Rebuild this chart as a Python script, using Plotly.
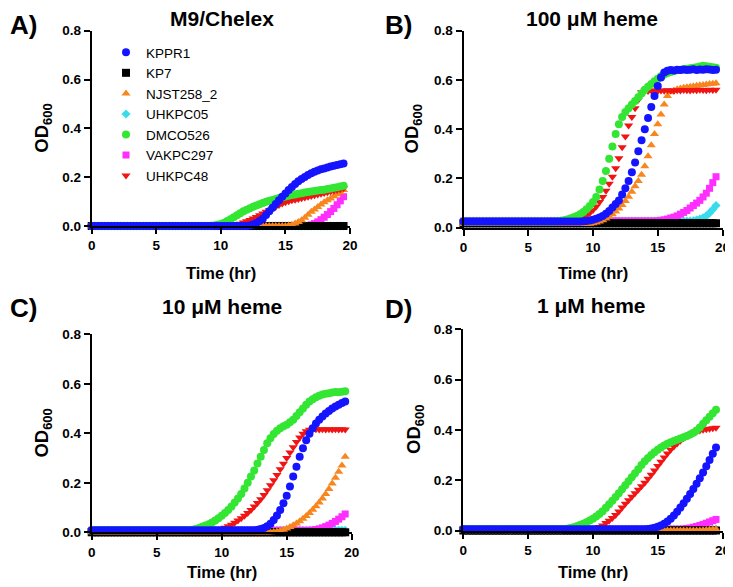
import plotly.graph_objects as go
from plotly.subplots import make_subplots

# sampling times (hr), one reading every 15 min
TIME_HR = [
    0.0, 0.25, 0.5, 0.75, 1.0, 1.25, 1.5, 1.75, 2.0, 2.25,
    2.5, 2.75, 3.0, 3.25, 3.5, 3.75, 4.0, 4.25, 4.5, 4.75,
    5.0, 5.25, 5.5, 5.75, 6.0, 6.25, 6.5, 6.75, 7.0, 7.25,
    7.5, 7.75, 8.0, 8.25, 8.5, 8.75, 9.0, 9.25, 9.5, 9.75,
    10.0, 10.25, 10.5, 10.75, 11.0, 11.25, 11.5, 11.75, 12.0, 12.25,
    12.5, 12.75, 13.0, 13.25, 13.5, 13.75, 14.0, 14.25, 14.5, 14.75,
    15.0, 15.25, 15.5, 15.75, 16.0, 16.25, 16.5, 16.75, 17.0, 17.25,
    17.5, 17.75, 18.0, 18.25, 18.5, 18.75, 19.0, 19.25, 19.5,
]

STRAINS = ["KPPR1", "KP7", "NJST258_2", "UHKPC05", "DMCO526", "VAKPC297", "UHKPC48"]

# ---------------- A) M9/Chelex ----------------
M9_KPPR1 = [
    0.0, 0.0, 0.0, 0.0, 0.0, 0.0, 0.0, 0.0, 0.0, 0.0,
    0.0, 0.0, 0.0, 0.0, 0.0, 0.0, 0.0, 0.0, 0.0, 0.0,
    0.0, 0.0, 0.0, 0.0, 0.0, 0.0, 0.0, 0.0, 0.0, 0.0,
    0.0, 0.0, 0.0, 0.0, 0.0, 0.0, 0.0, 0.0, 0.0, 0.0,
    0.0, 0.0, 0.0, 0.0, 0.0, 0.0, 0.0, 0.0, 0.0, 0.002,
    0.006, 0.012, 0.02, 0.03, 0.045, 0.06, 0.075, 0.09, 0.105, 0.12,
    0.133, 0.147, 0.16, 0.172, 0.183, 0.193, 0.201, 0.209, 0.216, 0.222,
    0.227, 0.232, 0.236, 0.24, 0.244, 0.247, 0.25, 0.253, 0.256,
]
M9_KP7 = [
    0.0, 0.0, 0.0, 0.0, 0.0, 0.0, 0.0, 0.0, 0.0, 0.0,
    0.0, 0.0, 0.0, 0.0, 0.0, 0.0, 0.0, 0.0, 0.0, 0.0,
    0.0, 0.0, 0.0, 0.0, 0.0, 0.0, 0.0, 0.0, 0.0, 0.0,
    0.0, 0.0, 0.0, 0.0, 0.0, 0.0, 0.0, 0.0, 0.0, 0.0,
    0.0, 0.0, 0.0, 0.0, 0.0, 0.0, 0.0, 0.0, 0.0, 0.0,
    0.0, 0.0, 0.0, 0.0, 0.0, 0.0, 0.0, 0.0, 0.0, 0.0,
    0.0, 0.0, 0.0, 0.0, 0.0, 0.0, 0.0, 0.0, 0.0, 0.0,
    0.0, 0.0, 0.0, 0.0, 0.0, 0.0, 0.0, 0.0, 0.0,
]
M9_NJST258_2 = [
    0.0, 0.0, 0.0, 0.0, 0.0, 0.0, 0.0, 0.0, 0.0, 0.0,
    0.0, 0.0, 0.0, 0.0, 0.0, 0.0, 0.0, 0.0, 0.0, 0.0,
    0.0, 0.0, 0.0, 0.0, 0.0, 0.0, 0.0, 0.0, 0.0, 0.0,
    0.0, 0.0, 0.0, 0.0, 0.0, 0.0, 0.0, 0.0, 0.0, 0.0,
    0.0, 0.0, 0.0, 0.0, 0.0, 0.0, 0.0, 0.0, 0.0, 0.0,
    0.0, 0.0, 0.0, 0.0, 0.0, 0.0, 0.0, 0.0, 0.0, 0.0,
    0.0, 0.002, 0.005, 0.01, 0.016, 0.024, 0.034, 0.046, 0.058, 0.068,
    0.078, 0.088, 0.097, 0.105, 0.113, 0.122, 0.13, 0.138, 0.147,
]
M9_UHKPC05 = [
    0.0, 0.0, 0.0, 0.0, 0.0, 0.0, 0.0, 0.0, 0.0, 0.0,
    0.0, 0.0, 0.0, 0.0, 0.0, 0.0, 0.0, 0.0, 0.0, 0.0,
    0.0, 0.0, 0.0, 0.0, 0.0, 0.0, 0.0, 0.0, 0.0, 0.0,
    0.0, 0.0, 0.0, 0.0, 0.0, 0.0, 0.0, 0.0, 0.0, 0.0,
    0.0, 0.0, 0.0, 0.0, 0.0, 0.0, 0.0, 0.0, 0.0, 0.0,
    0.0, 0.0, 0.0, 0.0, 0.0, 0.0, 0.0, 0.0, 0.0, 0.0,
    0.0, 0.0, 0.0, 0.0, 0.0, 0.0, 0.0, 0.0, 0.0, 0.0,
    0.0, 0.0, 0.0, 0.0, 0.0, 0.0, 0.0, 0.0, 0.0,
]
M9_DMCO526 = [
    0.0, 0.0, 0.0, 0.0, 0.0, 0.0, 0.0, 0.0, 0.0, 0.0,
    0.0, 0.0, 0.0, 0.0, 0.0, 0.0, 0.0, 0.0, 0.0, 0.0,
    0.0, 0.0, 0.0, 0.0, 0.0, 0.0, 0.0, 0.0, 0.0, 0.0,
    0.0, 0.0, 0.0, 0.0, 0.0, 0.0, 0.0, 0.001, 0.002, 0.005,
    0.008, 0.013, 0.02, 0.028, 0.036, 0.044, 0.052, 0.06, 0.067, 0.073,
    0.079, 0.084, 0.089, 0.094, 0.099, 0.103, 0.107, 0.111, 0.115, 0.118,
    0.121, 0.124, 0.127, 0.129, 0.132, 0.134, 0.137, 0.139, 0.141, 0.143,
    0.145, 0.147, 0.149, 0.152, 0.154, 0.157, 0.159, 0.162, 0.165,
]
M9_VAKPC297 = [
    0.0, 0.0, 0.0, 0.0, 0.0, 0.0, 0.0, 0.0, 0.0, 0.0,
    0.0, 0.0, 0.0, 0.0, 0.0, 0.0, 0.0, 0.0, 0.0, 0.0,
    0.0, 0.0, 0.0, 0.0, 0.0, 0.0, 0.0, 0.0, 0.0, 0.0,
    0.0, 0.0, 0.0, 0.0, 0.0, 0.0, 0.0, 0.0, 0.0, 0.0,
    0.0, 0.0, 0.0, 0.0, 0.0, 0.0, 0.0, 0.0, 0.0, 0.0,
    0.0, 0.0, 0.0, 0.0, 0.0, 0.0, 0.0, 0.0, 0.0, 0.0,
    0.0, 0.0, 0.0, 0.0, 0.0, 0.0, 0.0, 0.002, 0.005, 0.01,
    0.017, 0.026, 0.036, 0.047, 0.059, 0.072, 0.087, 0.103, 0.12,
]
M9_UHKPC48 = [
    0.0, 0.0, 0.0, 0.0, 0.0, 0.0, 0.0, 0.0, 0.0, 0.0,
    0.0, 0.0, 0.0, 0.0, 0.0, 0.0, 0.0, 0.0, 0.0, 0.0,
    0.0, 0.0, 0.0, 0.0, 0.0, 0.0, 0.0, 0.0, 0.0, 0.0,
    0.0, 0.0, 0.0, 0.0, 0.0, 0.0, 0.0, 0.0, 0.0, 0.0,
    0.0, 0.0, 0.0, 0.0, 0.002, 0.005, 0.009, 0.014, 0.019, 0.025,
    0.031, 0.037, 0.044, 0.051, 0.058, 0.065, 0.072, 0.079, 0.086, 0.092,
    0.097, 0.101, 0.105, 0.108, 0.111, 0.114, 0.117, 0.12, 0.123, 0.126,
    0.129, 0.132, 0.135, 0.138, 0.141, 0.144, 0.147, 0.151, 0.155,
]

# ---------------- B) 100 uM heme ----------------
H100_KPPR1 = [
    0.025, 0.025, 0.025, 0.025, 0.025, 0.025, 0.025, 0.025, 0.025, 0.025,
    0.025, 0.025, 0.025, 0.025, 0.025, 0.025, 0.025, 0.025, 0.025, 0.025,
    0.025, 0.025, 0.025, 0.025, 0.025, 0.025, 0.025, 0.025, 0.025, 0.025,
    0.025, 0.025, 0.025, 0.025, 0.025, 0.025, 0.025, 0.026, 0.027, 0.029,
    0.032, 0.036, 0.041, 0.048, 0.057, 0.068, 0.082, 0.096, 0.11, 0.135,
    0.16, 0.19, 0.225, 0.265, 0.31, 0.355, 0.4, 0.445, 0.49, 0.535,
    0.575, 0.61, 0.63, 0.637, 0.64, 0.638, 0.641, 0.64, 0.642, 0.64,
    0.641, 0.643, 0.64, 0.642, 0.641, 0.643, 0.642, 0.64, 0.641,
]
H100_KP7 = [
    0.018, 0.018, 0.018, 0.018, 0.018, 0.018, 0.018, 0.018, 0.018, 0.018,
    0.018, 0.018, 0.018, 0.018, 0.018, 0.018, 0.018, 0.018, 0.018, 0.018,
    0.018, 0.018, 0.018, 0.018, 0.018, 0.018, 0.018, 0.018, 0.018, 0.018,
    0.018, 0.018, 0.018, 0.018, 0.018, 0.018, 0.018, 0.018, 0.018, 0.018,
    0.018, 0.018, 0.018, 0.018, 0.018, 0.018, 0.018, 0.018, 0.018, 0.018,
    0.018, 0.018, 0.018, 0.018, 0.018, 0.018, 0.018, 0.018, 0.018, 0.018,
    0.018, 0.018, 0.018, 0.018, 0.018, 0.018, 0.018, 0.018, 0.018, 0.018,
    0.018, 0.018, 0.018, 0.018, 0.018, 0.018, 0.018, 0.018, 0.018,
]
H100_NJST258_2 = [
    0.015, 0.015, 0.015, 0.015, 0.015, 0.015, 0.015, 0.015, 0.015, 0.015,
    0.015, 0.015, 0.015, 0.015, 0.015, 0.015, 0.015, 0.015, 0.015, 0.015,
    0.015, 0.015, 0.015, 0.015, 0.015, 0.015, 0.015, 0.015, 0.015, 0.015,
    0.015, 0.015, 0.015, 0.015, 0.015, 0.015, 0.015, 0.015, 0.015, 0.016,
    0.018, 0.021, 0.025, 0.03, 0.037, 0.045, 0.055, 0.066, 0.078, 0.092,
    0.108, 0.126, 0.146, 0.168, 0.19, 0.215, 0.25, 0.29, 0.335, 0.38,
    0.42, 0.46, 0.5, 0.535, 0.55, 0.557, 0.562, 0.565, 0.568, 0.57,
    0.572, 0.574, 0.576, 0.578, 0.58, 0.582, 0.584, 0.585, 0.587,
]
H100_UHKPC05 = [
    0.027, 0.027, 0.027, 0.027, 0.027, 0.027, 0.027, 0.027, 0.027, 0.027,
    0.027, 0.027, 0.027, 0.027, 0.027, 0.027, 0.027, 0.027, 0.027, 0.027,
    0.027, 0.027, 0.027, 0.027, 0.027, 0.027, 0.027, 0.027, 0.027, 0.027,
    0.027, 0.027, 0.027, 0.027, 0.027, 0.027, 0.027, 0.027, 0.027, 0.027,
    0.027, 0.027, 0.027, 0.027, 0.027, 0.027, 0.027, 0.027, 0.027, 0.027,
    0.027, 0.027, 0.027, 0.027, 0.027, 0.027, 0.027, 0.027, 0.027, 0.027,
    0.027, 0.027, 0.027, 0.027, 0.027, 0.027, 0.027, 0.027, 0.027, 0.027,
    0.027, 0.028, 0.031, 0.035, 0.04, 0.048, 0.06, 0.074, 0.09,
]
H100_DMCO526 = [
    0.025, 0.025, 0.025, 0.025, 0.025, 0.025, 0.025, 0.025, 0.025, 0.025,
    0.025, 0.025, 0.025, 0.025, 0.025, 0.025, 0.025, 0.025, 0.025, 0.025,
    0.025, 0.025, 0.025, 0.025, 0.025, 0.025, 0.025, 0.025, 0.025, 0.026,
    0.028, 0.03, 0.033, 0.037, 0.042, 0.048, 0.055, 0.064, 0.075, 0.088,
    0.104, 0.125, 0.155, 0.19, 0.23, 0.28, 0.33, 0.38, 0.42, 0.45,
    0.47, 0.485, 0.5, 0.515, 0.53, 0.545, 0.56, 0.572, 0.584, 0.595,
    0.605, 0.615, 0.622, 0.628, 0.632, 0.636, 0.639, 0.641, 0.643, 0.645,
    0.648, 0.65, 0.652, 0.655, 0.658, 0.656, 0.654, 0.652, 0.65,
]
H100_VAKPC297 = [
    0.027, 0.027, 0.027, 0.027, 0.027, 0.027, 0.027, 0.027, 0.027, 0.027,
    0.027, 0.027, 0.027, 0.027, 0.027, 0.027, 0.027, 0.027, 0.027, 0.027,
    0.027, 0.027, 0.027, 0.027, 0.027, 0.027, 0.027, 0.027, 0.027, 0.027,
    0.027, 0.027, 0.027, 0.027, 0.027, 0.027, 0.027, 0.027, 0.027, 0.027,
    0.027, 0.027, 0.027, 0.027, 0.027, 0.027, 0.027, 0.027, 0.027, 0.027,
    0.027, 0.027, 0.027, 0.027, 0.027, 0.027, 0.027, 0.027, 0.027, 0.027,
    0.028, 0.03, 0.032, 0.035, 0.039, 0.043, 0.048, 0.055, 0.062, 0.07,
    0.08, 0.09, 0.1, 0.111, 0.125, 0.14, 0.16, 0.183, 0.207,
]
H100_UHKPC48 = [
    0.025, 0.025, 0.025, 0.025, 0.025, 0.025, 0.025, 0.025, 0.025, 0.025,
    0.025, 0.025, 0.025, 0.025, 0.025, 0.025, 0.025, 0.025, 0.025, 0.025,
    0.025, 0.025, 0.025, 0.025, 0.025, 0.025, 0.025, 0.025, 0.025, 0.025,
    0.025, 0.025, 0.025, 0.027, 0.029, 0.032, 0.036, 0.042, 0.05, 0.06,
    0.072, 0.086, 0.104, 0.125, 0.15, 0.178, 0.207, 0.241, 0.282, 0.327,
    0.37, 0.415, 0.45, 0.485, 0.52, 0.55, 0.556, 0.555, 0.557, 0.556,
    0.555, 0.557, 0.556, 0.558, 0.557, 0.556, 0.558, 0.557, 0.559, 0.558,
    0.557, 0.559, 0.558, 0.56, 0.559, 0.558, 0.56, 0.559, 0.56,
]

# ---------------- C) 10 uM heme ----------------
H10_KPPR1 = [
    0.008, 0.008, 0.008, 0.008, 0.008, 0.008, 0.008, 0.008, 0.008, 0.008,
    0.008, 0.008, 0.008, 0.008, 0.008, 0.008, 0.008, 0.008, 0.008, 0.008,
    0.008, 0.008, 0.008, 0.008, 0.008, 0.008, 0.008, 0.008, 0.008, 0.008,
    0.008, 0.008, 0.008, 0.008, 0.008, 0.008, 0.008, 0.008, 0.008, 0.008,
    0.008, 0.008, 0.008, 0.008, 0.008, 0.008, 0.008, 0.008, 0.008, 0.008,
    0.008, 0.01, 0.013, 0.017, 0.024, 0.035, 0.05, 0.068, 0.09, 0.117,
    0.148, 0.185, 0.225, 0.265, 0.305, 0.34, 0.372, 0.398, 0.42, 0.44,
    0.455, 0.468, 0.48, 0.49, 0.5, 0.508, 0.515, 0.522, 0.528,
]
H10_KP7 = [
    0.0, 0.0, 0.0, 0.0, 0.0, 0.0, 0.0, 0.0, 0.0, 0.0,
    0.0, 0.0, 0.0, 0.0, 0.0, 0.0, 0.0, 0.0, 0.0, 0.0,
    0.0, 0.0, 0.0, 0.0, 0.0, 0.0, 0.0, 0.0, 0.0, 0.0,
    0.0, 0.0, 0.0, 0.0, 0.0, 0.0, 0.0, 0.0, 0.0, 0.0,
    0.0, 0.0, 0.0, 0.0, 0.0, 0.0, 0.0, 0.0, 0.0, 0.0,
    0.0, 0.0, 0.0, 0.0, 0.0, 0.0, 0.0, 0.0, 0.0, 0.0,
    0.0, 0.0, 0.0, 0.0, 0.0, 0.0, 0.0, 0.0, 0.0, 0.0,
    0.0, 0.0, 0.0, 0.0, 0.0, 0.0, 0.0, 0.0, 0.0,
]
H10_NJST258_2 = [
    0.0, 0.0, 0.0, 0.0, 0.0, 0.0, 0.0, 0.0, 0.0, 0.0,
    0.0, 0.0, 0.0, 0.0, 0.0, 0.0, 0.0, 0.0, 0.0, 0.0,
    0.0, 0.0, 0.0, 0.0, 0.0, 0.0, 0.0, 0.0, 0.0, 0.0,
    0.0, 0.0, 0.0, 0.0, 0.0, 0.0, 0.0, 0.0, 0.0, 0.0,
    0.0, 0.0, 0.0, 0.0, 0.0, 0.0, 0.0, 0.0, 0.0, 0.0,
    0.0, 0.0, 0.0, 0.0, 0.0, 0.0, 0.001, 0.003, 0.006, 0.01,
    0.015, 0.021, 0.028, 0.036, 0.045, 0.055, 0.066, 0.078, 0.091, 0.105,
    0.12, 0.137, 0.155, 0.175, 0.197, 0.22, 0.245, 0.27, 0.305,
]
H10_UHKPC05 = [
    0.008, 0.008, 0.008, 0.008, 0.008, 0.008, 0.008, 0.008, 0.008, 0.008,
    0.008, 0.008, 0.008, 0.008, 0.008, 0.008, 0.008, 0.008, 0.008, 0.008,
    0.008, 0.008, 0.008, 0.008, 0.008, 0.008, 0.008, 0.008, 0.008, 0.008,
    0.008, 0.008, 0.008, 0.008, 0.008, 0.008, 0.008, 0.008, 0.008, 0.008,
    0.008, 0.008, 0.008, 0.008, 0.008, 0.008, 0.008, 0.008, 0.008, 0.008,
    0.008, 0.008, 0.008, 0.008, 0.008, 0.008, 0.008, 0.008, 0.008, 0.008,
    0.008, 0.008, 0.008, 0.008, 0.008, 0.008, 0.008, 0.008, 0.008, 0.008,
    0.008, 0.008, 0.008, 0.008, 0.008, 0.008, 0.008, 0.008, 0.008,
]
H10_DMCO526 = [
    0.008, 0.008, 0.008, 0.008, 0.008, 0.008, 0.008, 0.008, 0.008, 0.008,
    0.008, 0.008, 0.008, 0.008, 0.008, 0.008, 0.008, 0.008, 0.008, 0.008,
    0.008, 0.008, 0.008, 0.008, 0.008, 0.008, 0.008, 0.008, 0.008, 0.008,
    0.008, 0.01, 0.013, 0.017, 0.022, 0.027, 0.033, 0.04, 0.048, 0.057,
    0.067, 0.078, 0.09, 0.104, 0.12, 0.137, 0.155, 0.177, 0.2, 0.225,
    0.25, 0.278, 0.305, 0.333, 0.36, 0.38, 0.397, 0.41, 0.42, 0.428,
    0.435, 0.445, 0.455, 0.47, 0.485, 0.5, 0.515, 0.528, 0.538, 0.546,
    0.552, 0.557, 0.56, 0.562, 0.565, 0.567, 0.566, 0.568, 0.57,
]
H10_VAKPC297 = [
    0.008, 0.008, 0.008, 0.008, 0.008, 0.008, 0.008, 0.008, 0.008, 0.008,
    0.008, 0.008, 0.008, 0.008, 0.008, 0.008, 0.008, 0.008, 0.008, 0.008,
    0.008, 0.008, 0.008, 0.008, 0.008, 0.008, 0.008, 0.008, 0.008, 0.008,
    0.008, 0.008, 0.008, 0.008, 0.008, 0.008, 0.008, 0.008, 0.008, 0.008,
    0.008, 0.008, 0.008, 0.008, 0.008, 0.008, 0.008, 0.008, 0.008, 0.008,
    0.008, 0.008, 0.008, 0.008, 0.008, 0.008, 0.008, 0.008, 0.008, 0.008,
    0.008, 0.008, 0.008, 0.008, 0.008, 0.008, 0.008, 0.008, 0.009, 0.011,
    0.014, 0.018, 0.023, 0.029, 0.036, 0.044, 0.053, 0.063, 0.074,
]
H10_UHKPC48 = [
    0.008, 0.008, 0.008, 0.008, 0.008, 0.008, 0.008, 0.008, 0.008, 0.008,
    0.008, 0.008, 0.008, 0.008, 0.008, 0.008, 0.008, 0.008, 0.008, 0.008,
    0.008, 0.008, 0.008, 0.008, 0.008, 0.008, 0.008, 0.008, 0.008, 0.008,
    0.008, 0.008, 0.008, 0.008, 0.008, 0.008, 0.008, 0.008, 0.008, 0.01,
    0.013, 0.018, 0.024, 0.031, 0.039, 0.048, 0.057, 0.067, 0.078, 0.09,
    0.104, 0.118, 0.134, 0.151, 0.17, 0.19, 0.21, 0.232, 0.255, 0.277,
    0.3, 0.322, 0.344, 0.365, 0.383, 0.398, 0.408, 0.414, 0.415, 0.416,
    0.415, 0.416, 0.415, 0.416, 0.415, 0.416, 0.415, 0.416, 0.415,
]

# ---------------- D) 1 uM heme ----------------
H1_KPPR1 = [
    0.005, 0.005, 0.005, 0.005, 0.005, 0.005, 0.005, 0.005, 0.005, 0.005,
    0.005, 0.005, 0.005, 0.005, 0.005, 0.005, 0.005, 0.005, 0.005, 0.005,
    0.005, 0.005, 0.005, 0.005, 0.005, 0.005, 0.005, 0.005, 0.005, 0.005,
    0.005, 0.005, 0.005, 0.005, 0.005, 0.005, 0.005, 0.005, 0.005, 0.005,
    0.005, 0.005, 0.005, 0.005, 0.005, 0.005, 0.005, 0.005, 0.005, 0.005,
    0.005, 0.005, 0.005, 0.005, 0.005, 0.005, 0.005, 0.006, 0.008, 0.011,
    0.015, 0.02, 0.027, 0.036, 0.047, 0.06, 0.075, 0.091, 0.108, 0.126,
    0.145, 0.165, 0.186, 0.208, 0.231, 0.255, 0.28, 0.305, 0.33,
]
H1_KP7 = [
    0.0, 0.0, 0.0, 0.0, 0.0, 0.0, 0.0, 0.0, 0.0, 0.0,
    0.0, 0.0, 0.0, 0.0, 0.0, 0.0, 0.0, 0.0, 0.0, 0.0,
    0.0, 0.0, 0.0, 0.0, 0.0, 0.0, 0.0, 0.0, 0.0, 0.0,
    0.0, 0.0, 0.0, 0.0, 0.0, 0.0, 0.0, 0.0, 0.0, 0.0,
    0.0, 0.0, 0.0, 0.0, 0.0, 0.0, 0.0, 0.0, 0.0, 0.0,
    0.0, 0.0, 0.0, 0.0, 0.0, 0.0, 0.0, 0.0, 0.0, 0.0,
    0.0, 0.0, 0.0, 0.0, 0.0, 0.0, 0.0, 0.0, 0.0, 0.0,
    0.0, 0.0, 0.0, 0.0, 0.0, 0.0, 0.0, 0.0, 0.0,
]
H1_NJST258_2 = [
    0.0, 0.0, 0.0, 0.0, 0.0, 0.0, 0.0, 0.0, 0.0, 0.0,
    0.0, 0.0, 0.0, 0.0, 0.0, 0.0, 0.0, 0.0, 0.0, 0.0,
    0.0, 0.0, 0.0, 0.0, 0.0, 0.0, 0.0, 0.0, 0.0, 0.0,
    0.0, 0.0, 0.0, 0.0, 0.0, 0.0, 0.0, 0.0, 0.0, 0.0,
    0.0, 0.0, 0.0, 0.0, 0.0, 0.0, 0.0, 0.0, 0.0, 0.0,
    0.0, 0.0, 0.0, 0.0, 0.0, 0.0, 0.0, 0.0, 0.0, 0.0,
    0.0, 0.0, 0.0, 0.0, 0.0, 0.0, 0.0, 0.0, 0.0, 0.0,
    0.0, 0.0, 0.0, 0.0, 0.001, 0.002, 0.003, 0.004, 0.005,
]
H1_UHKPC05 = [
    0.005, 0.005, 0.005, 0.005, 0.005, 0.005, 0.005, 0.005, 0.005, 0.005,
    0.005, 0.005, 0.005, 0.005, 0.005, 0.005, 0.005, 0.005, 0.005, 0.005,
    0.005, 0.005, 0.005, 0.005, 0.005, 0.005, 0.005, 0.005, 0.005, 0.005,
    0.005, 0.005, 0.005, 0.005, 0.005, 0.005, 0.005, 0.005, 0.005, 0.005,
    0.005, 0.005, 0.005, 0.005, 0.005, 0.005, 0.005, 0.005, 0.005, 0.005,
    0.005, 0.005, 0.005, 0.005, 0.005, 0.005, 0.005, 0.005, 0.005, 0.005,
    0.005, 0.005, 0.005, 0.005, 0.005, 0.005, 0.005, 0.005, 0.005, 0.005,
    0.005, 0.005, 0.005, 0.005, 0.005, 0.005, 0.005, 0.005, 0.005,
]
H1_DMCO526 = [
    0.005, 0.005, 0.005, 0.005, 0.005, 0.005, 0.005, 0.005, 0.005, 0.005,
    0.005, 0.005, 0.005, 0.005, 0.005, 0.005, 0.005, 0.005, 0.005, 0.005,
    0.005, 0.005, 0.005, 0.005, 0.005, 0.005, 0.005, 0.005, 0.005, 0.005,
    0.005, 0.006, 0.007, 0.01, 0.013, 0.017, 0.022, 0.027, 0.033, 0.04,
    0.047, 0.056, 0.066, 0.077, 0.09, 0.104, 0.118, 0.133, 0.148, 0.164,
    0.18, 0.196, 0.212, 0.228, 0.244, 0.26, 0.275, 0.288, 0.3, 0.311,
    0.321, 0.33, 0.338, 0.345, 0.351, 0.356, 0.361, 0.366, 0.371, 0.376,
    0.382, 0.389, 0.398, 0.41, 0.424, 0.438, 0.452, 0.466, 0.48,
]
H1_VAKPC297 = [
    0.005, 0.005, 0.005, 0.005, 0.005, 0.005, 0.005, 0.005, 0.005, 0.005,
    0.005, 0.005, 0.005, 0.005, 0.005, 0.005, 0.005, 0.005, 0.005, 0.005,
    0.005, 0.005, 0.005, 0.005, 0.005, 0.005, 0.005, 0.005, 0.005, 0.005,
    0.005, 0.005, 0.005, 0.005, 0.005, 0.005, 0.005, 0.005, 0.005, 0.005,
    0.005, 0.005, 0.005, 0.005, 0.005, 0.005, 0.005, 0.005, 0.005, 0.005,
    0.005, 0.005, 0.005, 0.005, 0.005, 0.005, 0.005, 0.005, 0.005, 0.005,
    0.005, 0.005, 0.005, 0.005, 0.005, 0.005, 0.005, 0.005, 0.006, 0.008,
    0.01, 0.013, 0.016, 0.02, 0.024, 0.029, 0.034, 0.039, 0.044,
]
H1_UHKPC48 = [
    0.005, 0.005, 0.005, 0.005, 0.005, 0.005, 0.005, 0.005, 0.005, 0.005,
    0.005, 0.005, 0.005, 0.005, 0.005, 0.005, 0.005, 0.005, 0.005, 0.005,
    0.005, 0.005, 0.005, 0.005, 0.005, 0.005, 0.005, 0.005, 0.005, 0.005,
    0.005, 0.005, 0.005, 0.005, 0.005, 0.005, 0.005, 0.005, 0.005, 0.005,
    0.007, 0.01, 0.014, 0.02, 0.03, 0.039, 0.05, 0.062, 0.076, 0.091,
    0.106, 0.12, 0.134, 0.148, 0.162, 0.176, 0.19, 0.206, 0.222, 0.239,
    0.256, 0.273, 0.29, 0.306, 0.321, 0.334, 0.346, 0.357, 0.367, 0.376,
    0.383, 0.389, 0.394, 0.398, 0.401, 0.403, 0.405, 0.407, 0.409,
]

M9 = [M9_KPPR1, M9_KP7, M9_NJST258_2, M9_UHKPC05, M9_DMCO526, M9_VAKPC297, M9_UHKPC48]
H100 = [H100_KPPR1, H100_KP7, H100_NJST258_2, H100_UHKPC05, H100_DMCO526, H100_VAKPC297, H100_UHKPC48]
H10 = [H10_KPPR1, H10_KP7, H10_NJST258_2, H10_UHKPC05, H10_DMCO526, H10_VAKPC297, H10_UHKPC48]
H1 = [H1_KPPR1, H1_KP7, H1_NJST258_2, H1_UHKPC05, H1_DMCO526, H1_VAKPC297, H1_UHKPC48]

for grupo in (M9, H100, H10, H1):
    for serie in grupo:
        assert len(serie) == len(TIME_HR)

# estilo de cada cepa (color, simbolo, tamaño)
ESTILO = {
    "KPPR1": ("#1414ff", "circle", 8),
    "KP7": ("#000000", "square", 8),
    "NJST258_2": ("#f7861e", "triangle-up", 8),
    "UHKPC05": ("#38dcec", "diamond", 7),
    "DMCO526": ("#33e633", "circle", 8),
    "VAKPC297": ("#ff2eff", "square", 7),
    "UHKPC48": ("#f01414", "triangle-down", 8),
}
# de abajo hacia arriba (KPPR1 queda encima)
ORDEN_DIBUJO = ["UHKPC05", "VAKPC297", "KP7", "NJST258_2", "UHKPC48", "DMCO526", "KPPR1"]

FUENTE = "Arial, Liberation Sans, sans-serif"
NEGRO = "black"

# la pagina deja 8 px de margen en el body: todo se coloca en pixeles de
# la imagen y se desplaza OFF para que caiga en su sitio
OFF = 8
W, H = 733 - OFF, 587 - OFF

# (titulo, letra, fila, col, datos, x0/x20 en px, y0.8/y0 en px)
PANELES = [
    ("M9/Chelex", "A)", 1, 1, M9, (91.7, 350.0), (30.7, 226.0)),
    ("100 μM heme", "B)", 1, 2, H100, (463.5, 722.5), (30.7, 227.7)),
    ("10 μM heme", "C)", 2, 1, H10, (91.7, 351.7), (334.3, 532.3)),
    ("1 μM heme", "D)", 2, 2, H1, (463.3, 722.5), (329.3, 530.5)),
]
# (x izquierda, y, anclaje vertical)
LETRA_POS = [(8, 8, "top"), (383, 8, "top"), (8, 308, "middle"), (383, 309, "middle")]
TITULO_POS = [(221.7, 19), (592.0, 19), (221.7, 306.7), (591.7, 305)]
XTITULO_Y = [272.7, 272.7, 571.7, 571.7]
YTITULO_X = [43.3, 413.3, 43.3, 415.0]


def px(x, y):
    # pixeles de la imagen -> coordenadas paper
    return (x - OFF) / W, 1 - (y - OFF) / H


fig = make_subplots(rows=2, cols=2)

for p, (titulo, letra, fila, col, datos, dx, dy) in enumerate(PANELES):
    for nombre in ORDEN_DIBUJO:
        k = STRAINS.index(nombre)
        color, simbolo, tam = ESTILO[nombre]
        fig.add_trace(go.Scatter(
            x=TIME_HR,
            y=datos[k],
            mode="markers",
            name=nombre,
            marker=dict(color=color, symbol=simbolo, size=tam, line=dict(width=0)),
            cliponaxis=False,
            showlegend=(p == 0),
            legendrank=k + 1,
        ), row=fila, col=col)

    x0, y_bajo = px(dx[0], dy[1])
    x1, y_alto = px(dx[1], dy[0])
    fig.update_xaxes(
        domain=[x0, x1],
        range=[0, 20], tickvals=[0, 5, 10, 15, 20],
        showline=True, linewidth=2, linecolor=NEGRO,
        ticks="outside", ticklen=6, tickwidth=2, tickcolor=NEGRO,
        showgrid=False, zeroline=False, automargin=False,
        ticklabeloverflow="allow",
        tickfont=dict(family=FUENTE, size=13.5, color=NEGRO, weight="bold"),
        row=fila, col=col,
    )
    fig.update_yaxes(
        domain=[y_bajo, y_alto],
        range=[0, 0.8], tickvals=[0, 0.2, 0.4, 0.6, 0.8], tickformat=".1f",
        showline=True, linewidth=2, linecolor=NEGRO,
        ticks="outside", ticklen=6, tickwidth=2, tickcolor=NEGRO,
        showgrid=False, zeroline=False, automargin=False,
        tickfont=dict(family=FUENTE, size=13.5, color=NEGRO, weight="bold"),
        row=fila, col=col,
    )

    # titulo del panel
    tx, ty = px(*TITULO_POS[p])
    fig.add_annotation(
        x=tx, y=ty, xref="paper", yref="paper", text=titulo, showarrow=False,
        xanchor="center", yanchor="middle",
        font=dict(family=FUENTE, size=21, color=NEGRO, weight="bold"),
    )
    # letra del panel
    lx, ly, anc = LETRA_POS[p]
    lxp, lyp = px(lx, ly)
    fig.add_annotation(
        x=lxp, y=lyp, xref="paper", yref="paper", text=letra,
        showarrow=False, xanchor="left", yanchor=anc,
        font=dict(family=FUENTE, size=26, color=NEGRO, weight="bold"),
    )
    # titulos de ejes
    ax, ay = px((dx[0] + dx[1]) / 2, XTITULO_Y[p])
    fig.add_annotation(
        x=ax, y=ay, xref="paper", yref="paper", text="Time (hr)",
        showarrow=False, xanchor="center", yanchor="middle",
        font=dict(family=FUENTE, size=16.5, color=NEGRO, weight="bold"),
    )
    bx, by = px(YTITULO_X[p], (dy[0] + dy[1]) / 2)
    fig.add_annotation(
        x=bx, y=by, xref="paper", yref="paper", text="OD<sub>600</sub>",
        showarrow=False, xanchor="center", yanchor="middle", textangle=-90,
        font=dict(family=FUENTE, size=18.5, color=NEGRO, weight="bold"),
    )

lgx, lgy = px(106, 37)
fig.update_layout(
    template="none",
    width=W, height=H,
    autosize=False,
    margin=dict(l=0, r=0, t=0, b=0, autoexpand=False),
    plot_bgcolor="white",
    paper_bgcolor="white",
    legend=dict(
        x=lgx, y=lgy, xanchor="left", yanchor="top",
        bgcolor="rgba(0,0,0,0)", borderwidth=0,
        font=dict(family=FUENTE, size=13.5, color=NEGRO),
        tracegroupgap=0,
    ),
)

fig.write_html("out.html")
